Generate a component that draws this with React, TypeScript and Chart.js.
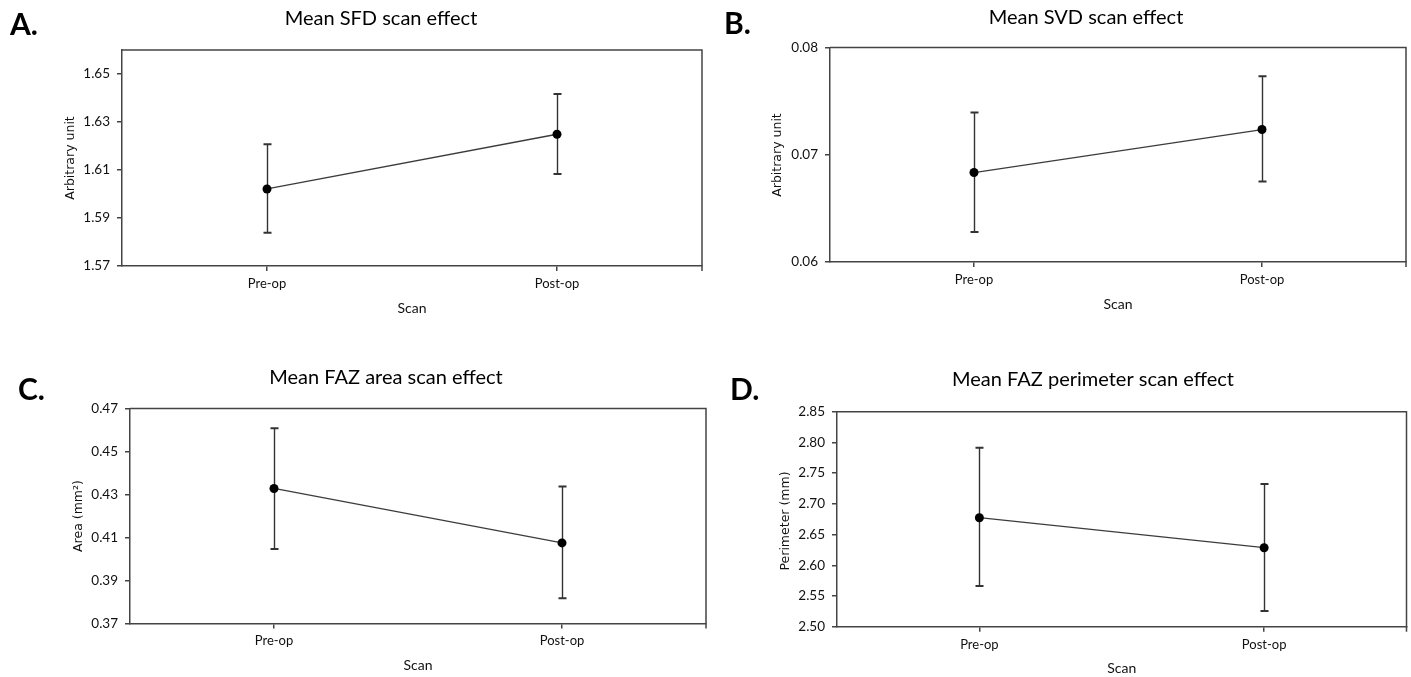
import React, { useEffect, useRef } from 'react';
import { Chart, registerables } from 'chart.js';

Chart.register(...registerables);

// ---------- data ----------
const categories = ['Pre-op', 'Post-op'];

const sfdMean = [1.6021, 1.6249];
const sfdLower = [1.5839, 1.6083];
const sfdUpper = [1.6207, 1.6417];
const sfdTicks = [1.57, 1.59, 1.61, 1.63, 1.65];

const svdMean = [0.06834, 0.07235];
const svdLower = [0.0628, 0.0675];
const svdUpper = [0.07394, 0.07732];
const svdTicks = [0.06, 0.07, 0.08];

const areaMean = [0.4328, 0.4075];
const areaLower = [0.4047, 0.3818];
const areaUpper = [0.4608, 0.4337];
const areaTicks = [0.37, 0.39, 0.41, 0.43, 0.45, 0.47];

const perimMean = [2.6774, 2.6286];
const perimLower = [2.5663, 2.5256];
const perimUpper = [2.7914, 2.7323];
const perimTicks = [2.5, 2.55, 2.6, 2.65, 2.7, 2.75, 2.8, 2.85];

// ---------- panel specs ----------
type Box = { left: number; top: number; width: number; height: number };
type Area = { left: number; top: number; right: number; bottom: number };
type Panel = {
  letter: string;
  title: string;
  yTitle: string;
  xTitle: string;
  mean: number[];
  lower: number[];
  upper: number[];
  ticks: number[];
  min: number;
  max: number;
  canvas: Box;
  area: Area;
  titlePos: { x: number; y: number };
  letterPos: { x: number; y: number };
  yTitlePos: { x: number; y: number };
  xTitleY: number;
};

const panels: Panel[] = [
  {
    letter: 'A.', title: 'Mean SFD scan effect', yTitle: 'Arbitrary unit', xTitle: 'Scan',
    mean: sfdMean, lower: sfdLower, upper: sfdUpper, ticks: sfdTicks, min: 1.57, max: 1.66,
    canvas: { left: 0, top: 0, width: 712, height: 335 },
    area: { left: 122, top: 50, right: 702, bottom: 266 },
    titlePos: { x: 381, y: 25 }, letterPos: { x: 10, y: 35 }, yTitlePos: { x: 71, y: 158 }, xTitleY: 308,
  },
  {
    letter: 'B.', title: 'Mean SVD scan effect', yTitle: 'Arbitrary unit', xTitle: 'Scan',
    mean: svdMean, lower: svdLower, upper: svdUpper, ticks: svdTicks, min: 0.06, max: 0.08,
    canvas: { left: 712, top: 0, width: 699, height: 335 },
    area: { left: 830, top: 47.5, right: 1406, bottom: 262 },
    titlePos: { x: 1086, y: 23.5 }, letterPos: { x: 724, y: 33.5 }, yTitlePos: { x: 778, y: 155 }, xTitleY: 304,
  },
  {
    letter: 'C.', title: 'Mean FAZ area scan effect', yTitle: 'Area (mm²)', xTitle: 'Scan',
    mean: areaMean, lower: areaLower, upper: areaUpper, ticks: areaTicks, min: 0.37, max: 0.47,
    canvas: { left: 0, top: 335, width: 712, height: 342 },
    area: { left: 130, top: 408.5, right: 706, bottom: 623.5 },
    titlePos: { x: 386, y: 383.5 }, letterPos: { x: 18, y: 400 }, yTitlePos: { x: 79, y: 516 }, xTitleY: 665,
  },
  {
    letter: 'D.', title: 'Mean FAZ perimeter scan effect', yTitle: 'Perimeter (mm)', xTitle: 'Scan',
    mean: perimMean, lower: perimLower, upper: perimUpper, ticks: perimTicks, min: 2.5, max: 2.85,
    canvas: { left: 712, top: 335, width: 699, height: 342 },
    area: { left: 837, top: 411.7, right: 1410, bottom: 626.7 },
    titlePos: { x: 1093, y: 386 }, letterPos: { x: 730, y: 400 }, yTitlePos: { x: 786, y: 521 }, xTitleY: 668,
  },
];

const FONT = 'Lato, "Open Sans", sans-serif';
const Y_TITLE_FONT = '"DejaVu Sans", "Open Sans", sans-serif';
const AXIS_COLOR = '#444';

function PanelChart({ p }: { p: Panel }) {
  const ref = useRef<HTMLCanvasElement | null>(null);

  useEffect(() => {
    if (!ref.current) return;
    const ox = p.canvas.left;
    const oy = p.canvas.top;

    const decor = {
      id: 'decor' + p.letter,
      beforeDatasetsDraw(chart: any) {
        const ctx = chart.ctx as CanvasRenderingContext2D;
        const xs = chart.scales.x;
        const ys = chart.scales.y;
        ctx.save();
        ctx.strokeStyle = '#333';
        for (let i = 0; i < categories.length; i++) {
          const x = Math.round(xs.getPixelForValue(i)) + 0.5;
          const yt = ys.getPixelForValue(p.upper[i]);
          const yb = ys.getPixelForValue(p.lower[i]);
          ctx.lineWidth = 1.4;
          ctx.beginPath();
          ctx.moveTo(x, yt);
          ctx.lineTo(x, yb);
          ctx.stroke();
          ctx.lineWidth = 2;
          ctx.beginPath();
          ctx.moveTo(x - 4, yt);
          ctx.lineTo(x + 4, yt);
          ctx.moveTo(x - 4, yb);
          ctx.lineTo(x + 4, yb);
          ctx.stroke();
        }
        ctx.restore();
      },
      afterDraw(chart: any) {
        const ctx = chart.ctx as CanvasRenderingContext2D;
        const a = chart.chartArea;
        ctx.save();
        // frame top and right
        ctx.strokeStyle = AXIS_COLOR;
        ctx.lineWidth = 1.5;
        ctx.beginPath();
        ctx.moveTo(a.left, a.top);
        ctx.lineTo(a.right, a.top);
        ctx.lineTo(a.right, a.bottom + 5);
        ctx.stroke();

        ctx.fillStyle = '#000';
        // panel letter
        ctx.font = `bold 30px ${FONT}`;
        ctx.textAlign = 'left';
        ctx.textBaseline = 'alphabetic';
        ctx.fillText(p.letter, p.letterPos.x - ox, p.letterPos.y - oy);
        // title
        ctx.font = `20px ${FONT}`;
        ctx.textAlign = 'center';
        ctx.fillText(p.title, p.titlePos.x - ox, p.titlePos.y - oy);
        // x title
        ctx.font = `14px ${FONT}`;
        ctx.textBaseline = 'middle';
        ctx.fillStyle = '#111';
        ctx.fillText(p.xTitle, (a.left + a.right) / 2, p.xTitleY - oy);
        // y title
        ctx.font = `12.5px ${Y_TITLE_FONT}`;
        ctx.translate(p.yTitlePos.x - ox, p.yTitlePos.y - oy);
        ctx.rotate(-Math.PI / 2);
        ctx.fillText(p.yTitle, 0, 0);
        ctx.restore();
      },
    };

    const chart = new Chart(ref.current, {
      type: 'line',
      data: {
        labels: categories,
        datasets: [
          {
            data: p.mean,
            borderColor: '#3c3c3c',
            borderWidth: 1.3,
            pointRadius: 4.5,
            pointHoverRadius: 4.5,
            pointBackgroundColor: '#000',
            pointBorderColor: '#000',
            pointBorderWidth: 0,
            tension: 0,
            clip: false as any,
          },
        ],
      },
      options: {
        animation: false,
        responsive: false,
        devicePixelRatio: 1,
        layout: {
          padding: {
            left: 0,
            top: p.area.top - oy,
            right: ox + p.canvas.width - p.area.right,
            bottom: 0,
          },
        },
        plugins: {
          legend: { display: false },
          tooltip: { enabled: false },
          title: { display: false },
        },
        scales: {
          x: {
            type: 'category',
            offset: true,
            grid: {
              drawOnChartArea: false,
              drawTicks: true,
              tickLength: 5,
              color: AXIS_COLOR,
              lineWidth: 1.5,
            },
            border: { display: true, color: AXIS_COLOR, width: 1.5 },
            ticks: {
              color: '#111',
              font: { family: FONT, size: 13 },
              padding: 5,
              maxRotation: 0,
            },
            afterFit: (scale: any) => {
              scale.height = oy + p.canvas.height - p.area.bottom;
            },
          },
          y: {
            type: 'linear',
            min: p.min,
            max: p.max,
            grid: {
              drawOnChartArea: false,
              drawTicks: true,
              tickLength: 5,
              color: AXIS_COLOR,
              lineWidth: 1.5,
            },
            border: { display: true, color: AXIS_COLOR, width: 1.5 },
            ticks: {
              color: '#111',
              font: { family: FONT, size: 13.5 },
              padding: 7,
              autoSkip: false,
              callback: (v: any) => Number(v).toFixed(2),
            },
            afterBuildTicks: (axis: any) => {
              axis.ticks = p.ticks.map((v) => ({ value: v }));
            },
            afterFit: (scale: any) => {
              scale.width = p.area.left - ox;
            },
          },
        },
      },
      plugins: [decor],
    } as any);

    return () => chart.destroy();
  }, [p]);

  return (
    <canvas
      ref={ref}
      width={p.canvas.width}
      height={p.canvas.height}
      style={{
        position: 'absolute',
        left: p.canvas.left,
        top: p.canvas.top,
        width: p.canvas.width,
        height: p.canvas.height,
      }}
    />
  );
}

export default function App() {
  return (
    <div
      style={{
        position: 'absolute',
        left: 0,
        top: 0,
        width: 1411,
        height: 677,
        background: '#fff',
        overflow: 'hidden',
      }}
    >
      {panels.map((p) => (
        <PanelChart key={p.letter} p={p} />
      ))}
    </div>
  );
}
